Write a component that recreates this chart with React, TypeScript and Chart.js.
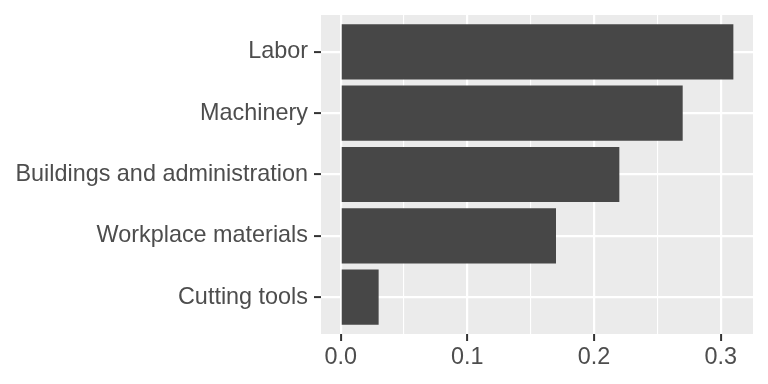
import React, { useEffect, useRef } from "react";
import { Chart, registerables } from "chart.js";

Chart.register(...registerables);

const categories = ["Labor", "Machinery", "Buildings and administration", "Workplace materials", "Cutting tools"];
const values = [0.31, 0.27, 0.22, 0.17, 0.03];
const xMajorTicks = [0, 0.1, 0.2, 0.3];
const xMinorTicks = [0.05, 0.15, 0.25];

const FONT = "'Liberation Sans', Arial, Helvetica, sans-serif";

export default function App() {
  const ref = useRef<HTMLCanvasElement | null>(null);

  useEffect(() => {
    if (!ref.current) return;
    const n = categories.length;
    const isMinor = (v: number) => xMinorTicks.some((m) => Math.abs(m - v) < 1e-9);

    const panelBg = {
      id: "panelBg",
      beforeDraw(chart: any) {
        const { ctx, chartArea } = chart;
        ctx.save();
        ctx.fillStyle = "#EBEBEB";
        ctx.fillRect(chartArea.left, chartArea.top, chartArea.right - chartArea.left, chartArea.bottom - chartArea.top);
        ctx.restore();
      },
    };

    const chart = new Chart(ref.current, {
      type: "bar",
      data: {
        datasets: [
          {
            data: values.map((v, i) => ({ x: v, y: n - i })),
            backgroundColor: "#474747",
            borderWidth: 0,
            barPercentage: 0.9,
            categoryPercentage: 1,
          },
        ],
      },
      options: {
        indexAxis: "y",
        animation: false,
        responsive: false,
        maintainAspectRatio: false,
        layout: { padding: { top: 15, right: 15, left: 0, bottom: 0 } },
        plugins: { legend: { display: false }, tooltip: { enabled: false } },
        scales: {
          x: {
            type: "linear",
            min: -0.0155,
            max: 0.3255,
            offset: false,
            beginAtZero: false,
            border: { display: false },
            afterBuildTicks: (scale: any) => {
              scale.ticks = [...xMajorTicks, ...xMinorTicks].sort((a, b) => a - b).map((v) => ({ value: v }));
            },
            afterFit: (scale: any) => {
              scale.height = 50;
              scale.paddingLeft = 0;
              scale.paddingRight = 0;
            },
            grid: {
              offset: false,
              color: "#FFFFFF",
              lineWidth: (ctx: any) => (ctx.tick && isMinor(ctx.tick.value) ? 1.1 : 2.2),
              drawTicks: true,
              tickLength: 7,
              tickWidth: 2,
              tickColor: (ctx: any) => (ctx.tick && isMinor(ctx.tick.value) ? "rgba(0,0,0,0)" : "#333333"),
            },
            ticks: {
              autoSkip: false,
              maxRotation: 0,
              padding: 3,
              color: "#4D4D4D",
              font: { family: FONT, size: 23.4 },
              callback: (v: any) => (isMinor(Number(v)) ? "" : Number(v).toFixed(1)),
            },
          },
          y: {
            type: "linear",
            min: 0.4,
            max: 5.6,
            offset: false,
            border: { display: false },
            afterBuildTicks: (scale: any) => {
              scale.ticks = categories.map((_, i) => ({ value: n - i }));
            },
            afterFit: (scale: any) => {
              scale.width = 321;
              scale.paddingTop = 0;
              scale.paddingBottom = 0;
            },
            grid: {
              offset: false,
              color: "#FFFFFF",
              lineWidth: 2.2,
              drawTicks: true,
              tickLength: 7,
              tickWidth: 2,
              tickColor: "#333333",
            },
            ticks: {
              autoSkip: false,
              padding: 6,
              color: "#4D4D4D",
              font: { family: FONT, size: 23.4 },
              callback: (v: any) => categories[n - Number(v)] ?? "",
            },
          },
        },
      },
      plugins: [panelBg],
    } as any);

    return () => chart.destroy();
  }, []);

  return (
    <div style={{ position: "fixed", left: 0, top: 0, width: 768, height: 384, background: "#FFFFFF" }}>
      <canvas ref={ref} width={768} height={384} style={{ width: 768, height: 384, display: "block" }} />
    </div>
  );
}
